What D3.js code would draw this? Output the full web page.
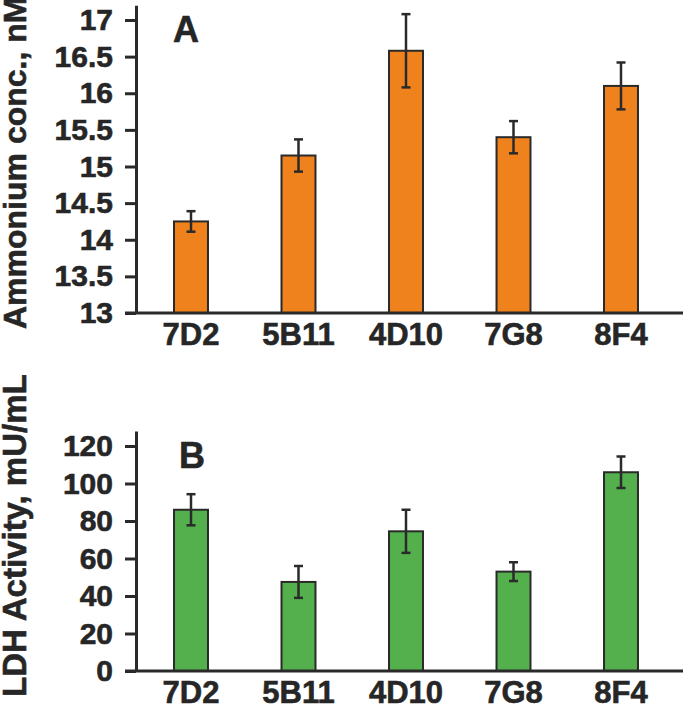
<!DOCTYPE html>
<html>
<head>
<meta charset="utf-8">
<script src="https://cdn.jsdelivr.net/npm/d3@7"></script>
<style>
  body { margin: 0; background: #fff; }
  svg { display: block; }
  text { font-family: Arial, "Liberation Sans", sans-serif; font-weight: bold; fill: #262626; stroke: #262626; stroke-width: 0.6px; }
</style>
</head>
<body>
<div id="container"></div>
<script>
// Data
const clones = ["7D2", "5B11", "4D10", "7G8", "8F4"];
const ammoniumMean = [14.25, 15.15, 16.58, 15.4, 16.1];
const ammoniumErr = [0.14, 0.22, 0.5, 0.22, 0.32];
const ldhMean = [86, 47.5, 74.5, 53, 106];
const ldhErr = [8.3, 8.5, 11.5, 5, 8.4];
const ammoniumTicks = [13, 13.5, 14, 14.5, 15, 15.5, 16, 16.5, 17];
const ldhTicks = [0, 20, 40, 60, 80, 100, 120];

const W = 685, H = 708;
const ink = "#2a2a2a";

const svg = d3.select("#container").append("svg")
  .attr("width", W)
  .attr("height", H);

// shared x scale for both panels
const x = d3.scaleBand()
  .domain(clones)
  .range([137.25, 674.75])
  .paddingInner(0.684)
  .paddingOuter(0.342);

function panel(opts) {
  const g = svg.append("g");
  const y = d3.scaleLinear().domain(opts.domain).range(opts.range);
  const base = y(opts.domain[0]);
  const rows = clones.map((c, i) => ({ c, v: opts.mean[i], e: opts.err[i] }));

  // bars
  g.selectAll("rect.bar")
    .data(rows)
    .enter()
    .append("rect")
    .attr("class", "bar")
    .attr("x", d => x(d.c))
    .attr("width", x.bandwidth())
    .attr("y", d => y(d.v))
    .attr("height", d => base - y(d.v))
    .attr("fill", opts.color)
    .attr("stroke", ink)
    .attr("stroke-width", 2);

  // error bars
  const cap = 4.5;
  const eb = g.selectAll("g.err").data(rows).enter().append("g")
    .attr("stroke", ink)
    .attr("stroke-width", 2.5);
  eb.append("line")
    .attr("x1", d => x(d.c) + x.bandwidth() / 2)
    .attr("x2", d => x(d.c) + x.bandwidth() / 2)
    .attr("y1", d => y(d.v + d.e))
    .attr("y2", d => y(d.v - d.e));
  eb.append("line")
    .attr("x1", d => x(d.c) + x.bandwidth() / 2 - cap)
    .attr("x2", d => x(d.c) + x.bandwidth() / 2 + cap)
    .attr("y1", d => y(d.v + d.e))
    .attr("y2", d => y(d.v + d.e));
  eb.append("line")
    .attr("x1", d => x(d.c) + x.bandwidth() / 2 - cap)
    .attr("x2", d => x(d.c) + x.bandwidth() / 2 + cap)
    .attr("y1", d => y(d.v - d.e))
    .attr("y2", d => y(d.v - d.e));

  // y axis
  const yAxis = g.append("g")
    .attr("transform", "translate(136,0)")
    .call(d3.axisLeft(y)
      .tickValues(opts.ticks)
      .tickFormat(d => d)
      .tickSize(11)
      .tickSizeOuter(0)
      .tickPadding(12));
  yAxis.selectAll("path, line").attr("stroke", ink).attr("stroke-width", 3);
  yAxis.selectAll("text")
    .attr("font-size", 30)
    .attr("font-family", null)
    .attr("fill", "#262626");

  // x axis baseline
  g.append("line")
    .attr("x1", 125)
    .attr("x2", 683)
    .attr("y1", base)
    .attr("y2", base)
    .attr("stroke", ink)
    .attr("stroke-width", 3);

  // category labels
  g.selectAll("text.cat")
    .data(clones)
    .enter()
    .append("text")
    .attr("class", "cat")
    .attr("x", d => x(d) + x.bandwidth() / 2)
    .attr("y", base + 32)
    .attr("text-anchor", "middle")
    .attr("font-size", 31)
    .text(d => d);

  // y title
  g.append("text")
    .attr("transform", "translate(26," + opts.titleY + ") rotate(-90)")
    .attr("font-size", opts.titleSize)
    .text(opts.title);

  // panel letter
  g.append("text")
    .attr("x", opts.letterX)
    .attr("y", opts.letterY)
    .attr("font-size", 36)
    .text(opts.letter);
}

panel({
  domain: [13, 17.2],
  range: [313, 5.35],
  ticks: ammoniumTicks,
  mean: ammoniumMean,
  err: ammoniumErr,
  color: "#ef821d",
  title: "Ammonium conc., nM",
  titleY: 329,
  titleSize: 32,
  letter: "A",
  letterX: 173,
  letterY: 42
});

panel({
  domain: [0, 128],
  range: [671, 431],
  ticks: ldhTicks,
  mean: ldhMean,
  err: ldhErr,
  color: "#53b04d",
  title: "LDH Activity, mU/mL",
  titleY: 697,
  titleSize: 33,
  letter: "B",
  letterX: 179,
  letterY: 468
});
</script>
</body>
</html>
